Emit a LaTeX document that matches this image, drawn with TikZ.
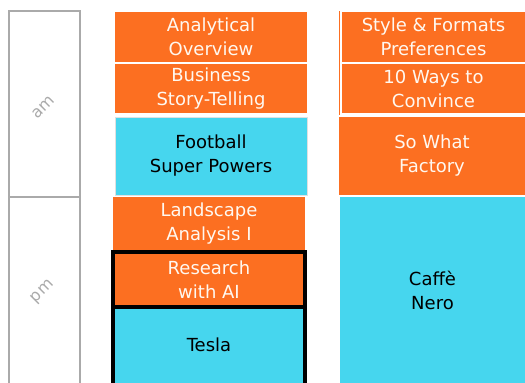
\documentclass[tikz,border=0pt]{standalone}
\usepackage{fontspec}
\setmainfont{DejaVu Sans}
\definecolor{sorange}{HTML}{FC6F21}
\definecolor{scyan}{HTML}{46D6EE}
\definecolor{sgrey}{HTML}{AAAAAA}
\definecolor{otext}{HTML}{FFF8F0}
\tikzset{
  slot/.style={anchor=north west, inner sep=0pt, outer sep=0pt, align=center,
    font=\fontsize{18}{24}\selectfont},
  orangeslot/.style={slot, fill=sorange, text=otext},
  cyanslot/.style={slot, fill=scyan, text=black},
  daytext/.style={text=sgrey, rotate=45, inner sep=0pt, font=\fontsize{16}{18}\selectfont},
}
\begin{document}
\begin{tikzpicture}[x=1pt,y=-1pt]
\useasboundingbox (0,0) rectangle (525,383);
% day column
\draw[sgrey, line width=1.2pt] (9,383) -- (9,11) -- (80,11) -- (80,383);
\draw[sgrey, line width=1.2pt] (9,197) -- (80,197);
\node[daytext] (am) at (43,107) {am};
\node[daytext] (pm) at (43,292) {pm};
% column 1
\node[orangeslot, minimum width=192pt, minimum height=50pt] (ao) at (115,12) {Analytical\\Overview};
\node[orangeslot, minimum width=192pt, minimum height=49pt] (bs) at (115,64) {Business\\Story-Telling};
\node[cyanslot, draw=white!88!black, line width=0.8pt, minimum width=192pt, minimum height=78pt] (fs) at (115,117) {Football\\Super Powers};
\node[orangeslot, minimum width=192pt, minimum height=53pt] (la) at (113,197) {Landscape\\Analysis I};
\node[orangeslot, minimum width=192pt, minimum height=55pt] (ra) at (113,252) {Research\\with AI};
\node[cyanslot, minimum width=192pt, minimum height=76pt] (te) at (113,307) {Tesla};
\draw[black, line width=4pt] (113,383) -- (113,252) -- (305,252) -- (305,383);
\draw[black, line width=4pt] (111,307) -- (307,307);
% column 2
\draw[sorange, line width=1.2pt] (339.6,11) -- (339.6,115);
\node[orangeslot, minimum width=183pt, minimum height=50pt] (sf) at (342,12) {Style \& Formats\\Preferences};
\node[orangeslot, minimum width=183pt, minimum height=49pt] (tw) at (342,64) {10 Ways to\\Convince};
\node[orangeslot, minimum width=186pt, minimum height=78pt] (sw) at (339,117) {So What\\Factory};
\node[cyanslot, minimum width=185pt, minimum height=186pt] (cn) at (340,197) {Caffè\\Nero};
\end{tikzpicture}
\end{document}
